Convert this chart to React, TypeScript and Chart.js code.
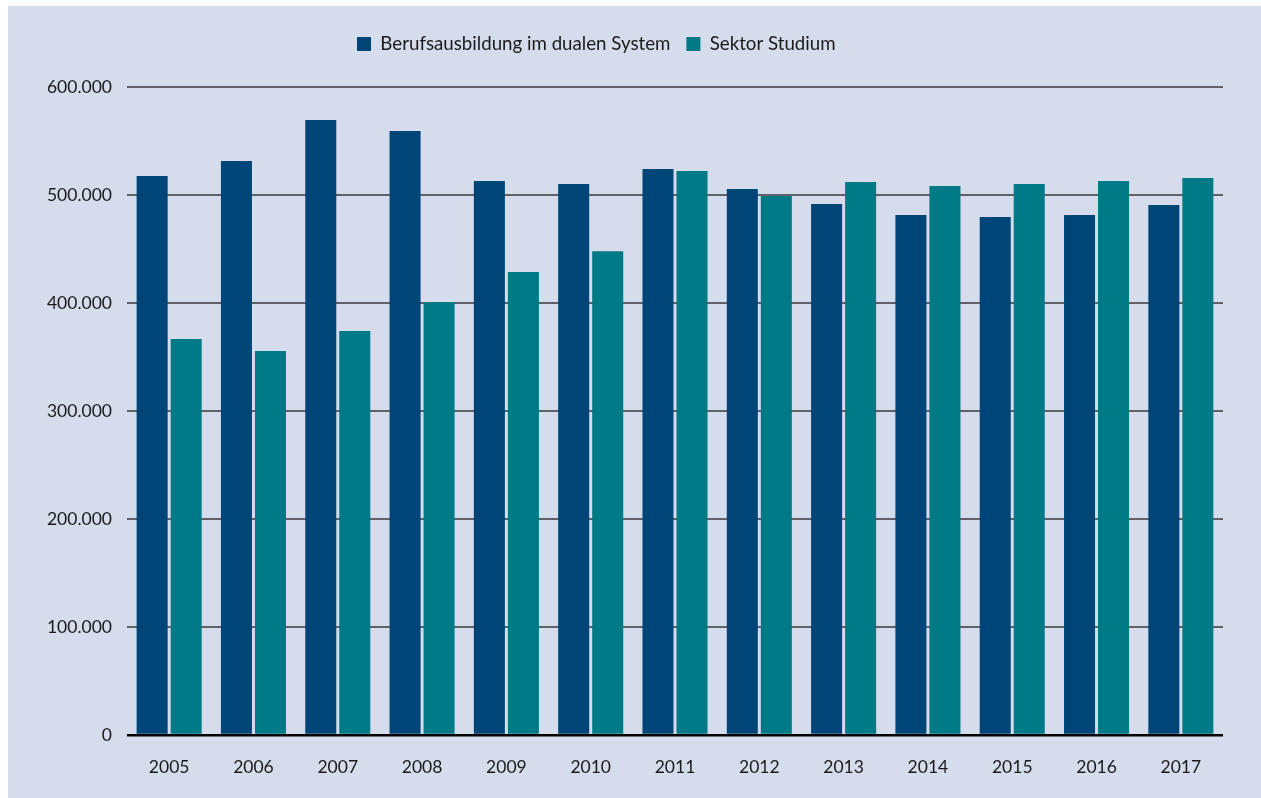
import React, { useEffect, useRef } from 'react';
import { Chart, registerables } from 'chart.js';

Chart.register(...registerables);

const years = ['2005', '2006', '2007', '2008', '2009', '2010', '2011', '2012', '2013', '2014', '2015', '2016', '2017'];
const dualValues = [517600, 531500, 569400, 559300, 513000, 510200, 524000, 505600, 491700, 481500, 479600, 481500, 490700];
const studiumValues = [366700, 355600, 374100, 401000, 428700, 448000, 522200, 499000, 512000, 508300, 510200, 513000, 515700];
const seriesLabels = ['Berufsausbildung im dualen System', 'Sektor Studium'];
const yMin = 0;
const yMax = 600000;
const yStep = 100000;

const DARK = '#004578';
const TEAL = '#007a87';
const TEXT = '#1a1a1a';
const GRID = '#5f6068';
const TICK_FONT = { family: 'Lato', size: 17.5 };
const LEGEND_FONT = { family: 'Lato', size: 18.7 };

const fmt = (v: number) => String(Math.round(v)).replace(/\B(?=(\d{3})+(?!\d))/g, '.');

const legendShift = {
  id: 'legendShift',
  afterLayout(chart: any) {
    const l = chart.legend;
    if (!l) return;
    const w = l.right - l.left;
    const h = l.bottom - l.top;
    l.left = 333;
    l.right = 333 + w;
    l.top = 12.65;
    l.bottom = 12.65 + h;
  },
};

export default function App() {
  const ref = useRef<HTMLCanvasElement | null>(null);
  useEffect(() => {
    if (!ref.current) return;
    const chart = new Chart(ref.current, {
      type: 'bar',
      data: {
        labels: years,
        datasets: [
          { label: seriesLabels[0], data: dualValues, backgroundColor: DARK, borderWidth: 0, categoryPercentage: 0.807, barPercentage: 0.912 },
          { label: seriesLabels[1], data: studiumValues, backgroundColor: TEAL, borderWidth: 0, categoryPercentage: 0.807, barPercentage: 0.912 },
        ],
      },
      options: {
        animation: false,
        responsive: false,
        layout: { padding: { left: 0, right: 38, top: 36.3, bottom: 0 } },
        plugins: {
          legend: {
            position: 'top',
            align: 'start',
            labels: { boxWidth: 14, boxHeight: 14, padding: 16, color: TEXT, font: LEGEND_FONT },
          },
          tooltip: { enabled: false },
        },
        scales: {
          x: {
            grid: { display: false, drawTicks: false },
            border: { display: false },
            ticks: { color: TEXT, font: TICK_FONT, padding: 22 },
            afterFit: (s: any) => { s.height = 63; },
          },
          y: {
            min: yMin,
            max: yMax,
            ticks: { stepSize: yStep, color: TEXT, font: TICK_FONT, padding: 15, callback: (v: any) => fmt(Number(v)) },
            grid: {
              drawTicks: false,
              color: (c: any) => (c.tick && c.tick.value === 0 ? '#000000' : GRID),
              lineWidth: (c: any) => (c.tick && c.tick.value === 0 ? 2.5 : 2),
            },
            border: { display: false },
            afterFit: (s: any) => { s.width = 119; },
          },
        },
      },
      plugins: [legendShift],
    } as any);
    return () => chart.destroy();
  }, []);
  return (
    <div style={{ position: 'fixed', left: 8, top: 6, right: 0, bottom: 0, background: '#d5dceb', overflow: 'hidden' }}>
      <canvas ref={ref} width={1253} height={792} style={{ display: 'block' }} />
    </div>
  );
}
